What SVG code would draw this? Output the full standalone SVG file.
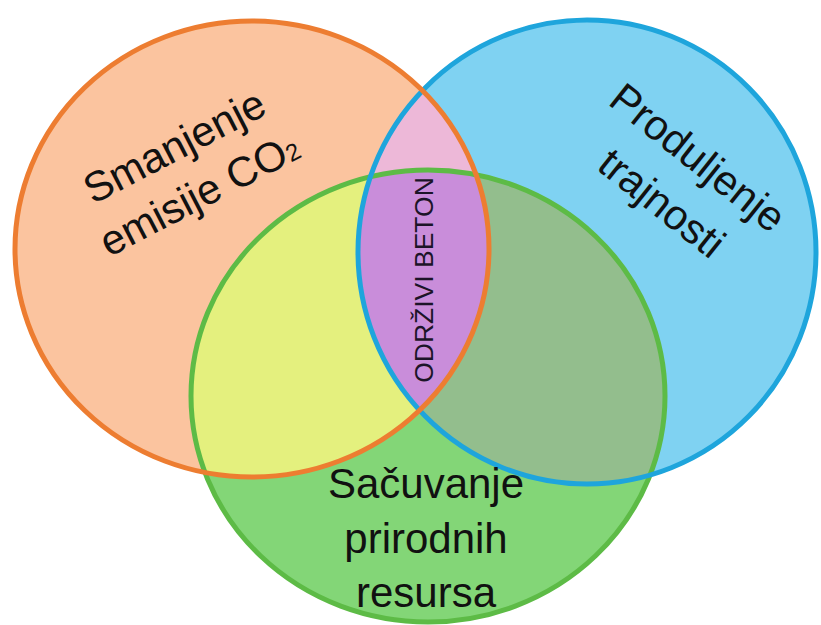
<svg xmlns="http://www.w3.org/2000/svg" width="821" height="625" viewBox="0 0 821 625">
<style>
.lbl{font-family:"Liberation Sans",Arial,sans-serif;font-size:42px;fill:#111;text-anchor:middle}
.core{font-family:"Liberation Sans",Arial,sans-serif;font-size:26.5px;fill:#1c1428;text-anchor:middle}
.edge{fill:none;stroke-width:5}
</style>
<defs>
<clipPath id="cO"><ellipse cx="252" cy="249" rx="237" ry="228"/></clipPath>
<clipPath id="cB"><ellipse cx="587" cy="252" rx="229" ry="232"/></clipPath>
</defs>
<rect width="821" height="625" fill="#ffffff"/>
<g id="fills">
<ellipse cx="252" cy="249" rx="237" ry="228" fill="#FBC49F"/>
<ellipse cx="587" cy="252" rx="229" ry="232" fill="#7FD2F2"/>
<ellipse cx="428" cy="396" rx="237" ry="226" fill="#83D677"/>
<g clip-path="url(#cO)"><ellipse cx="587" cy="252" rx="229" ry="232" fill="#EDB8D8"/><ellipse cx="428" cy="396" rx="237" ry="226" fill="#E4F07E"/></g>
<g clip-path="url(#cB)"><ellipse cx="428" cy="396" rx="237" ry="226" fill="#93BE8D"/></g>
<g clip-path="url(#cB)"><g clip-path="url(#cO)"><ellipse cx="428" cy="396" rx="237" ry="226" fill="#C98DDA"/></g></g>
</g>
<g id="node-green"><ellipse class="edge" cx="428" cy="396" rx="237" ry="226" stroke="#5DBB46"/></g>
<g id="node-blue"><ellipse class="edge" cx="587" cy="252" rx="229" ry="232" stroke="#1EA5DC"/></g>
<g id="node-orange"><ellipse class="edge" cx="252" cy="249" rx="237" ry="228" stroke="#ED7D31"/></g>
<g id="label-orange" transform="translate(181,159) rotate(-27.5)">
<text class="lbl" x="0" y="0">Smanjenje</text>
<text class="lbl" x="0" y="54">emisije CO<tspan font-size="24">2</tspan></text>
</g>
<g id="label-blue" transform="translate(689,169) rotate(38.5)">
<text class="lbl" x="0" y="0">Produljenje</text>
<text class="lbl" x="0" y="58">trajnosti</text>
</g>
<g id="label-green">
<text class="lbl" x="426" y="498">Sačuvanje</text>
<text class="lbl" x="426" y="553">prirodnih</text>
<text class="lbl" x="426" y="607">resursa</text>
</g>
<g id="node-center"><text class="core" transform="translate(433,280) rotate(-90)" x="0" y="0">ODRŽIVI BETON</text></g>
<g id="connectors"/>
</svg>
